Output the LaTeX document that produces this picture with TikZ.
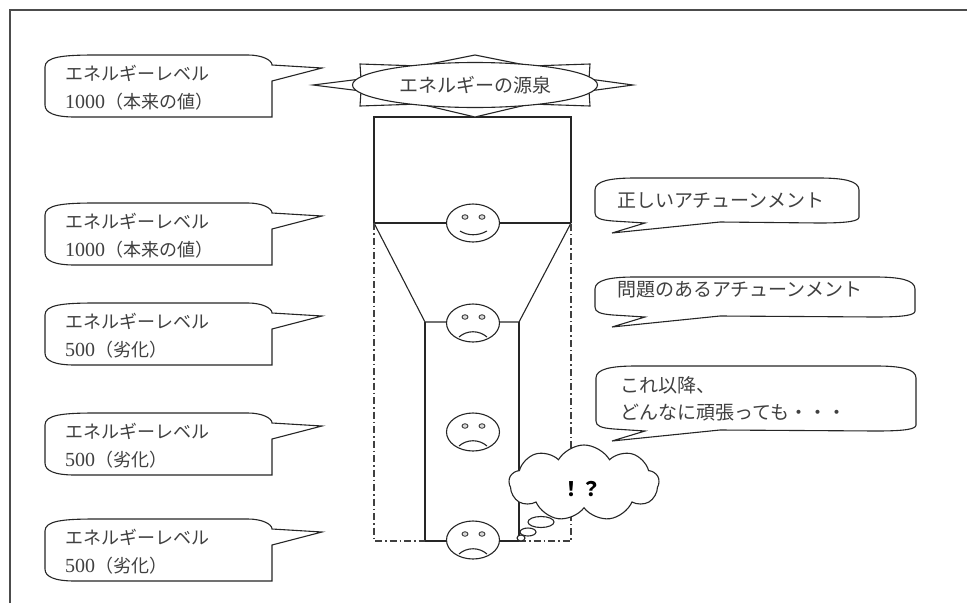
\documentclass[tikz,border=0pt]{standalone}
\usepackage{fontspec}
\setmainfont{Liberation Serif}
\newfontfamily\jp{Noto Sans CJK JP}
\usetikzlibrary{shapes.geometric,shapes.symbols}
\tikzset{
  ln/.style={line width=1.1pt, draw=black!85},
  frameln/.style={line width=1.6pt, draw=black!70},
  dashdotln/.style={line width=1.1pt, draw=black!75, dash pattern=on 7pt off 3pt on 1.5pt off 3pt},
  callout/.style={line width=1.1pt, draw=black!85, fill=white},
  txt/.style={inner sep=0pt, anchor=west, text=black!75, font=\fontsize{18}{20}\selectfont},
  face/.style={ellipse, line width=1.1pt, draw=black!85, fill=white, minimum width=53pt, minimum height=38pt, inner sep=0pt},
  eye/.style={ellipse, line width=0.8pt, draw=black!85, fill=black!15, minimum width=6pt, minimum height=4.5pt, inner sep=0pt},
}
\newcommand{\num}[1]{{\fontsize{20}{20}\selectfont #1}}
\newcommand{\lcall}[1]{%
  \draw[callout] (45,#1+12) .. controls (45,#1+2) and (62,#1) .. (95,#1) -- (248,#1)
    .. controls (262,#1) and (272,#1+5) .. (272,#1+10) -- (322,#1+13) -- (272,#1+26)
    -- (272,#1+62) -- (75,#1+62) .. controls (55,#1+62) and (45,#1+58) .. (45,#1+50) -- cycle;}
\newcommand{\rcall}[4]{% L R T B
  \draw[callout] (#1,#3+12) .. controls (#1,#3+3) and (#1+15,#3) .. (#1+40,#3) -- (#2-40,#3)
    .. controls (#2-15,#3) and (#2,#3+3) .. (#2,#3+12) -- (#2,#4-6)
    .. controls (#2,#4-2) and (#2-10,#4) .. (#2-40,#4) -- (720,#4-1) -- (612,#4+10) -- (645,#4)
    -- (#1+18,#4-2) .. controls (#1+5,#4-3) and (#1,#4-5) .. (#1,#4-10) -- cycle;}
\newcommand{\happyface}[2]{%
  \node[face] (#1) at (#2) {};
  \begin{scope}[shift={(#2)}]
    \node[eye] (#1l) at (-8,-6) {};
    \node[eye] (#1r) at (9,-6) {};
    \draw[ln] (-13,8) .. controls (-5,13) and (5,13) .. (14,8);
  \end{scope}}
\newcommand{\sadface}[2]{%
  \node[face] (#1) at (#2) {};
  \begin{scope}[shift={(#2)}]
    \node[eye] (#1l) at (-8,-6) {};
    \node[eye] (#1r) at (9,-6) {};
    \draw[ln] (-14,14) .. controls (-6,7) and (6,7) .. (14,14);
  \end{scope}}
\begin{document}
\begin{tikzpicture}[x=1pt, y=-1pt]
\useasboundingbox (0,0) rectangle (967,603);
% frame
\draw[frameln] (10,603) -- (10,10) -- (967,10);
% column
\draw[ln] (374,223) -- (374,117) -- (571,117) -- (571,223);
\draw[ln] (374,223) -- (571,223);
\draw[ln] (374,223) -- (425,322) -- (519,322) -- (571,223);
\draw[ln] (425,322) -- (425,541) -- (519,541) -- (519,322);
\draw[dashdotln] (374,223) -- (374,541) -- (425,541);
\draw[dashdotln] (519,541) -- (571,541) -- (571,223);
% faces
\happyface{f1}{473,223}
\sadface{f2}{473,323}
\sadface{f3}{473,432}
\sadface{f4}{473,540}
% thought bubbles and cloud
\node[ellipse, callout, minimum width=8pt, minimum height=6pt, inner sep=0pt] (b3) at (521,538) {};
\node[ellipse, callout, minimum width=16pt, minimum height=8pt, inner sep=0pt] (b2) at (528,532) {};
\node[ellipse, callout, minimum width=26pt, minimum height=11pt, inner sep=0pt] (b1) at (541,522) {};
\node[cloud, cloud puffs=9, cloud puff arc=120, aspect=2, callout, minimum width=150pt, minimum height=76pt, inner sep=0pt] (cl) at (584,483) {};
\node[inner sep=0pt, font=\fontsize{20}{20}\selectfont\jp\bfseries] (clt) at (581,489) {！？};
% left callouts
\lcall{55}
\lcall{203}
\lcall{303}
\lcall{413}
\lcall{519}
\node[txt] (l1a) at (65,73) {\jp エネルギーレベル};
\node[txt] (l1b) at (65,102) {\num{1000}\jp（本来の値）};
\node[txt] (l2a) at (65,221) {\jp エネルギーレベル};
\node[txt] (l2b) at (65,250) {\num{1000}\jp（本来の値）};
\node[txt] (l3a) at (65,321) {\jp エネルギーレベル};
\node[txt] (l3b) at (65,350) {\num{500}\jp（劣化）};
\node[txt] (l4a) at (65,431) {\jp エネルギーレベル};
\node[txt] (l4b) at (65,460) {\num{500}\jp（劣化）};
\node[txt] (l5a) at (65,537) {\jp エネルギーレベル};
\node[txt] (l5b) at (65,566) {\num{500}\jp（劣化）};
% right callouts
\rcall{595}{859}{178}{223}
\rcall{595}{915}{277}{317}
\rcall{596}{916}{366}{431}
\node[txt, font=\fontsize{19}{20}\selectfont] (r1) at (617,201) {\jp 正しいアチューンメント};
\node[txt, font=\fontsize{19}{20}\selectfont] (r2) at (617,290) {\jp 問題のあるアチューンメント};
\node[txt, font=\fontsize{19}{20}\selectfont] (r3a) at (620,385) {\jp これ以降、};
\node[txt, font=\fontsize{19}{20}\selectfont] (r3b) at (620,413) {\jp どんなに頑張っても・・・};
% star and source ellipse
\draw[callout] (633,85) -- (589,79) -- (590,64) -- (530,66) -- (475,55) -- (420,66) -- (360,64) -- (361,79)
  -- (313,85) -- (361,91) -- (360,106) -- (420,104) -- (475,117) -- (530,104) -- (590,106) -- (589,91) -- cycle;
\node[ellipse, callout, minimum width=245pt, minimum height=45pt, inner sep=0pt] (src) at (475,85) {};
\node[txt, anchor=center, font=\fontsize{19}{20}\selectfont] (srct) at (475,85) {\jp エネルギーの源泉};
\end{tikzpicture}
\end{document}
